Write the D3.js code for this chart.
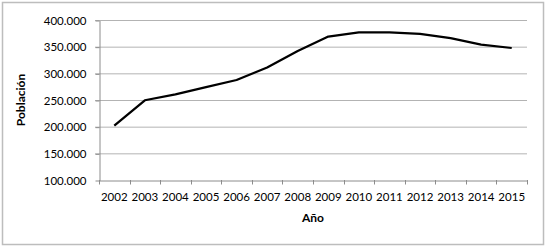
<!DOCTYPE html>
<html>
<head>
<meta charset="utf-8">
<script src="https://cdn.jsdelivr.net/npm/d3@7"></script>
<style>
body { margin: 0; background: #fff; }
text { font-family: Lato, "Liberation Sans", sans-serif; }
</style>
</head>
<body>
<div id="container"></div>
<script>
let w = 547;
let h = 248;

// DATA
let years = ["2002","2003","2004","2005","2006","2007","2008","2009","2010","2011","2012","2013","2014","2015"];
let poblacion = [202000, 249500, 260500, 274000, 287500, 311000, 342000, 369000, 377000, 377000, 374000, 366000, 354000, 347500];
let yTicks = [100000, 150000, 200000, 250000, 300000, 350000, 400000];

let viz = d3.select("#container").append("svg")
  .attr("width", w)
  .attr("height", h)
  .style("display", "block");

// chart border
viz.append("rect")
  .attr("x", 2.5).attr("y", 2.5)
  .attr("width", 541).attr("height", 242)
  .attr("fill", "white")
  .attr("stroke", "#bdbdbd")
  .attr("stroke-width", 1.5);

let pLeft = 99, pRight = 527, pTop = 20, pBottom = 180;

// SCALES
let xScale = d3.scaleBand().domain(years).range([pLeft, pRight]);
let yScale = d3.scaleLinear().domain([100000, 400000]).range([pBottom, pTop]);

// 400000 -> "400.000"
let fmt = function(d){ return (d / 1000) + ".000"; };

// gridlines
viz.selectAll(".grid").data(yTicks.slice(1)).enter()
  .append("line")
  .attr("class", "grid")
  .attr("x1", pLeft - 4).attr("x2", pRight)
  .attr("y1", function(d){ return yScale(d) + 0.5; })
  .attr("y2", function(d){ return yScale(d) + 0.5; })
  .attr("stroke", "#b3b3b3")
  .attr("stroke-width", 1);

// y axis
let yAxis = d3.axisLeft(yScale).tickValues(yTicks).tickFormat(fmt).tickSize(4).tickSizeOuter(0);
let yg = viz.append("g").attr("transform", "translate(" + (pLeft + 0.5) + ",0.5)").call(yAxis);
yg.select(".domain").attr("stroke", "#8c8c8c");
yg.selectAll(".tick line").attr("stroke", "#8c8c8c");
yg.selectAll(".tick text").attr("font-size", "11.5px").attr("fill", "#000").attr("x", -13)
  .style("font-family", "Lato, 'Liberation Sans', sans-serif");

// x axis
let xAxis = d3.axisBottom(xScale).tickSize(0).tickSizeOuter(0);
let xg = viz.append("g").attr("transform", "translate(0," + (pBottom + 0.5) + ")").call(xAxis);
xg.select(".domain").attr("stroke", "#8c8c8c");
xg.selectAll(".tick text").attr("font-size", "11.5px").attr("fill", "#000").attr("y", 12)
  .style("font-family", "Lato, 'Liberation Sans', sans-serif");

// x tick marks between categories
let bounds = years.map(function(d){ return xScale(d); }).concat([pRight]);
viz.selectAll(".xtick").data(bounds).enter()
  .append("line")
  .attr("class", "xtick")
  .attr("x1", function(d){ return Math.round(d) + 0.5; })
  .attr("x2", function(d){ return Math.round(d) + 0.5; })
  .attr("y1", pBottom).attr("y2", pBottom + 4.5)
  .attr("stroke", "#8c8c8c");

// LINE
let lineMaker = d3.line()
  .x(function(d, i){ return xScale(years[i]) + xScale.bandwidth() / 2; })
  .y(function(d){ return yScale(d); });

viz.append("path")
  .datum(poblacion)
  .attr("d", lineMaker)
  .attr("fill", "none")
  .attr("stroke", "black")
  .attr("stroke-width", 2.25)
  .attr("stroke-linejoin", "round");

// axis titles
viz.append("text")
  .attr("x", (pLeft + pRight) / 2).attr("y", 222)
  .attr("text-anchor", "middle")
  .attr("font-size", "12px").attr("font-weight", "bold")
  .text("Año");

viz.append("text")
  .attr("transform", "translate(25," + ((pTop + pBottom) / 2) + ") rotate(-90)")
  .attr("text-anchor", "middle")
  .attr("font-size", "12px").attr("font-weight", "bold")
  .text("Población");
</script>
</body>
</html>
